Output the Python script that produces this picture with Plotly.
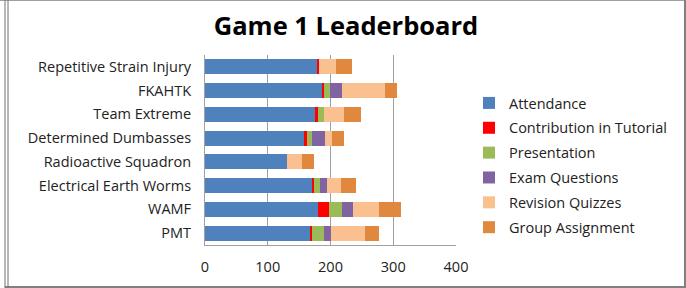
import plotly.graph_objects as go

teams = ["Repetitive Strain Injury", "FKAHTK", "Team Extreme", "Determined Dumbasses",
         "Radioactive Squadron", "Electrical Earth Worms", "WAMF", "PMT"]
attendance = [178, 186, 176, 158, 131, 170, 180, 168]
contribution = [4, 4, 4, 4, 0, 4, 17, 2]
presentation = [0, 9, 10, 9, 0, 9, 21, 20]
exam_questions = [0, 20, 0, 21, 0, 11, 18, 11]
revision_quizzes = [26, 68, 31, 11, 23, 22, 41, 54]
group_assignment = [26, 19, 27, 19, 19, 24, 36, 23]
x_ticks = [0, 100, 200, 300, 400]

series = [
    ("Attendance", attendance, "#4F81BD"),
    ("Contribution in Tutorial", contribution, "#FF0000"),
    ("Presentation", presentation, "#9BBB59"),
    ("Exam Questions", exam_questions, "#8064A2"),
    ("Revision Quizzes", revision_quizzes, "#FAC090"),
    ("Group Assignment", group_assignment, "#E0893E"),
]

FONT = "Open Sans, Lato, sans-serif"

fig = go.Figure()
for name, vals, color in series:
    fig.add_trace(go.Bar(y=teams, x=vals, name=name, orientation="h", legendgroup=name,
                         marker=dict(color=color, line=dict(width=0))))

W, H = 686, 288
L, R, T, B = 205, 456, 55, 245

def px(x):
    return (x - L) / (R - L)

def py(y):
    return (B - y) / (B - T)

shapes = [
    dict(type="line", xref="paper", yref="paper", x0=px(0), x1=px(686), y0=py(0.5), y1=py(0.5),
         line=dict(color="#A0A0A0", width=1)),
    dict(type="line", xref="paper", yref="paper", x0=px(685), x1=px(685), y0=py(0), y1=py(288),
         line=dict(color="#808080", width=2)),
    dict(type="line", xref="paper", yref="paper", x0=px(5), x1=px(686), y0=py(287), y1=py(287),
         line=dict(color="#808080", width=2)),
    dict(type="line", xref="paper", yref="paper", x0=px(5), x1=px(5), y0=py(0), y1=py(288),
         line=dict(color="#707070", width=1)),
    dict(type="line", xref="paper", yref="paper", x0=px(8), x1=px(8), y0=py(0), y1=py(288),
         line=dict(color="#707070", width=1)),
]

fig.update_layout(
    width=W, height=H,
    barmode="stack",
    bargap=0.37,
    margin=dict(l=L, r=W - R, t=T, b=H - B),
    paper_bgcolor="white", plot_bgcolor="white",
    font=dict(family=FONT, color="#222222", size=14),
    title=dict(text="<b>Game 1 Leaderboard</b>", x=346 / W, xanchor="center",
               y=1 - 26 / H, yanchor="middle",
               font=dict(size=25.5, color="#000000", family=FONT)),
    legend=dict(x=px(469), y=py(87), xanchor="left", yanchor="top",
                font=dict(size=14.5, color="#222222", family=FONT), tracegroupgap=3,
                itemwidth=30, bgcolor="rgba(0,0,0,0)", traceorder="grouped"),
    shapes=shapes,
    xaxis=dict(range=[0, 400], tickvals=x_ticks, showgrid=True, gridcolor="#A0A0A0",
               gridwidth=1, zeroline=False, showline=True, linecolor="#A0A0A0",
               ticks="", ticklabelstandoff=9, tickfont=dict(size=14.5, color="#222222")),
    yaxis=dict(autorange="reversed", showline=True, linecolor="#A0A0A0", ticks="",
               ticklabelstandoff=10, tickfont=dict(size=14.5, color="#222222")),
)

fig.write_html("out.html")
